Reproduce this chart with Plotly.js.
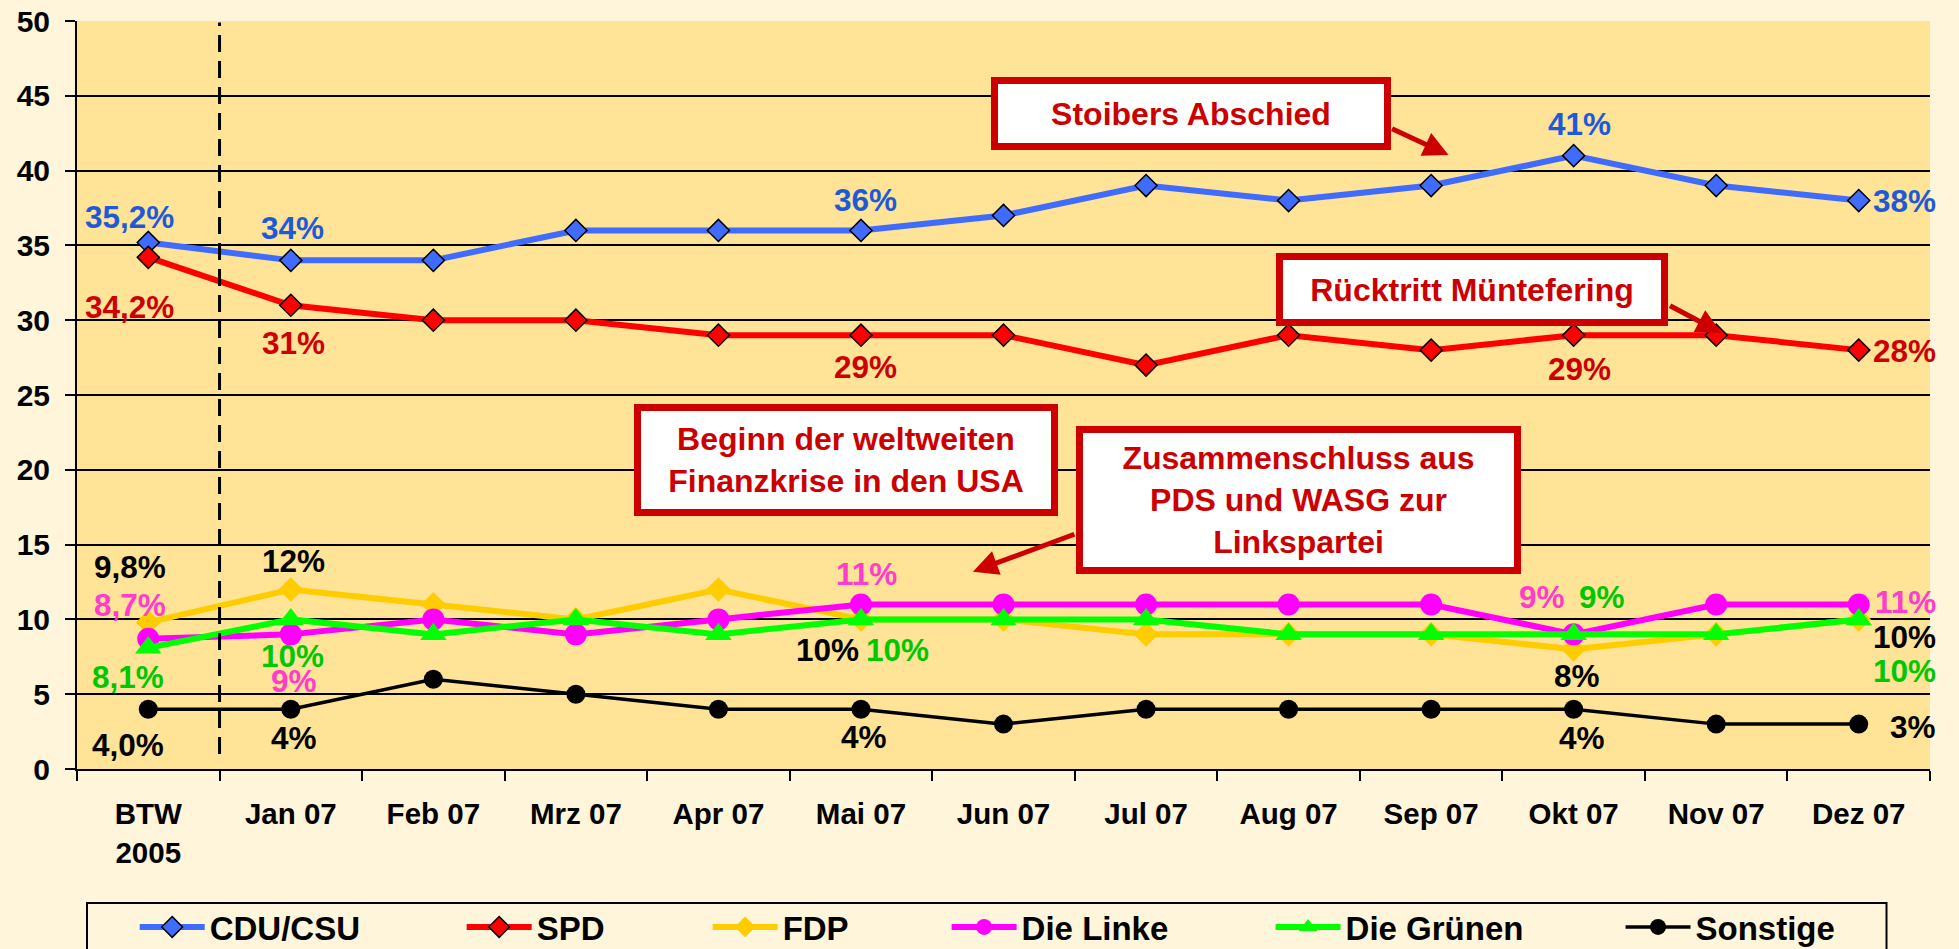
<!DOCTYPE html>
<html><head><meta charset="utf-8">
<script src="https://cdn.plot.ly/plotly-3.0.1.min.js"></script>
<style>html,body{margin:0;padding:0;background:#FFF5DA;}#chart{width:1959px;height:949px;}</style>
</head><body><div id="chart"></div>
<script>
// ---- data ----
const categories = ['BTW<br>2005','Jan 07','Feb 07','Mrz 07','Apr 07','Mai 07','Jun 07','Jul 07','Aug 07','Sep 07','Okt 07','Nov 07','Dez 07'];
const cduCsu     = [35.2, 34, 34, 36, 36, 36, 37, 39, 38, 39, 41, 39, 38];
const spd        = [34.2, 31, 30, 30, 29, 29, 29, 27, 29, 28, 29, 29, 28];
const fdp        = [9.8, 12, 11, 10, 12, 10, 10,  9,  9,  9,  8,  9, 10];
const dieLinke   = [8.7,  9, 10,  9, 10, 11, 11, 11, 11, 11,  9, 11, 11];
const dieGruenen = [8.1, 10,  9, 10,  9, 10, 10, 10,  9,  9,  9,  9, 10];
const sonstige   = [4.0,  4,  6,  5,  4,  4,  3,  4,  4,  4,  4,  3,  3];
const seriesNames = ['CDU/CSU','SPD','FDP','Die Linke','Die Grünen','Sonstige'];
const yTickVals = [0, 5, 10, 15, 20, 25, 30, 35, 40, 45, 50];
const eventTexts = ['Stoibers Abschied','Rücktritt Müntefering','Beginn der weltweiten<br>Finanzkrise in den USA','Zusammenschluss aus<br>PDS und WASG zur<br>Linkspartei'];

// ---- styling ----
const FONT = 'Liberation Sans, Arial, Helvetica, sans-serif';
const seriesData = [cduCsu, spd, fdp, dieLinke, dieGruenen, sonstige];
const lineColors = ['#3F6BFF','#FF0000','#FFCC00','#FF00FF','#00FF00','#000000'];
const labelColors = ['#1E5AD8','#CC0000','#000000','#FF3CCB','#00C800','#000000'];
const markerSpecs = [
  {symbol:'diamond', size:17, line:{color:'#000',width:1.5}},
  {symbol:'diamond', size:17, line:{color:'#000',width:1.5}},
  {symbol:'diamond', size:19, line:{color:'#FFCC00',width:0}},
  {symbol:'circle', size:22, line:{color:'#FF00FF',width:0}},
  {symbol:'triangle-up', size:23, line:{color:'#00FF00',width:0}},
  {symbol:'circle', size:19, line:{color:'#000',width:0}}
];
const lineWidths = [6, 6, 6, 6, 6, 3.5];
const legendKeys = ['legend','legend2','legend3','legend4','legend5','legend6'];
const legendLeftPx = [135, 462, 708, 947, 1271, 1621];

// label placements: [seriesIndex, pointIndex, xshift, yshift, anchor]
const R = 79;
const labelPlacement = [
  [0,0,-18.6,25.4,'center'],[0,1,2,32.4,'center'],[0,5,4.6,30.4,'center'],[0,10,5.8,31.9,'center'],[0,12,R,0,'right'],
  [1,0,-18.6,-50,'center'],[1,1,2.4,-37.3,'center'],[1,5,4.6,-31.8,'center'],[1,10,5.8,-33.8,'center'],[1,12,R,-0.7,'right'],
  [2,0,-18.6,55.4,'center'],[2,1,2.4,28.5,'center'],[2,5,-33.4,-30.1,'center'],[2,10,3.6,-27.1,'center'],[2,12,R,-17.6,'right'],
  [3,0,-18.6,34.1,'center'],[3,1,3.5,-46.2,'center'],[3,5,5.6,30.4,'center'],[3,10,-31.2,37.4,'center'],[3,12,R,2.6,'right'],
  [4,0,-20.6,-29.2,'center'],[4,1,1.9,-36.3,'center'],[4,5,36.4,-30.1,'center'],[4,10,28.5,37.4,'center'],[4,12,R,-51.6,'right'],
  [5,0,-20.6,-35.6,'center'],[5,1,3.5,-29.2,'center'],[5,5,2.6,-27.8,'center'],[5,10,8.5,-28.5,'center'],[5,12,R,-2.4,'right']
];

function fmt(v, i){ return (i === 0 ? v.toFixed(1).replace('.', ',') : String(v)) + '%'; }

// plot area in pixels (for paper-coordinate conversion of annotation boxes)
const W = 1959, H = 949;
const PL = 77.3, PR = 1930.5, PT = 21, PB = 769;
const px = x => (x - PL) / (PR - PL);
const py = y => (PB - y) / (PB - PT);

const traces = seriesNames.map((name, k) => ({
  type:'scatter', mode:'lines+markers', name:name,
  x:categories, y:seriesData[k],
  line:{color:lineColors[k], width:lineWidths[k]},
  marker:Object.assign({color:lineColors[k]}, markerSpecs[k]),
  cliponaxis:false, legend:legendKeys[k], hoverinfo:'skip', showlegend:true
}));

const annotations = labelPlacement.map(([s,i,dx,dy,anc]) => ({
  xref:'x', yref:'y', x:categories[i], y:seriesData[s][i],
  text:fmt(seriesData[s][i], i), showarrow:false,
  xanchor:anc, yanchor:'middle', xshift:dx, yshift:dy,
  font:{family:FONT, size:31.5, weight:700, color:labelColors[s]}
}));

const boxes = [
  {cx:1191.6, cy:113.6, w:400, h:73},
  {cx:1472.9, cy:289.4, w:392, h:73},
  {cx:845.9,  cy:460,   w:424, h:112},
  {cx:1298.5, cy:500,   w:445, h:148}
];
boxes.forEach((b, k) => annotations.push({
  xref:'paper', yref:'paper', x:px(b.cx), y:py(b.cy), xanchor:'center', yanchor:'middle',
  text:eventTexts[k], showarrow:false, align:'center',
  width:b.w - 22, height:b.h - 22, borderpad:4, borderwidth:7,
  bordercolor:'#CC0000', bgcolor:'#FFFFFF',
  font:{family:FONT, size:32, weight:700, color:'#CC0000'}
}));
const arrows = [
  {tx:1449, ty:155, ax:-58, ay:-27},
  {tx:1722, ty:333, ax:-53, ay:-28},
  {tx:973.3, ty:571.7, ax:103, ay:-38}
];
arrows.forEach(a => annotations.push({
  xref:'paper', yref:'paper', x:px(a.tx), y:py(a.ty), ax:a.ax, ay:a.ay,
  text:'', showarrow:true, arrowhead:2, arrowsize:1, arrowwidth:5, arrowcolor:'#CC0000', standoff:0
}));

const layout = {
  width:W, height:H, showlegend:true,
  paper_bgcolor:'#FFF5DA', plot_bgcolor:'#FFE397',
  margin:{l:PL, r:W-PR, t:PT, b:H-PB, autoexpand:false},
  font:{family:FONT, color:'#000'},
  hovermode:false,
  xaxis:{type:'category', range:[-0.5,12.5], showgrid:false, zeroline:false,
    showline:true, linecolor:'#000', linewidth:2, ticks:'outside', tickson:'boundaries',
    ticklen:10, tickwidth:2, tickcolor:'#000', ticklabelstandoff:18, automargin:false,
    tickfont:{family:FONT, size:29.5, weight:700, color:'#000'}},
  yaxis:{range:[0,50], tickvals:yTickVals, showgrid:true, gridcolor:'#000', gridwidth:2,
    zeroline:false, showline:true, linecolor:'#000', linewidth:2, ticks:'outside',
    ticklen:10, tickwidth:2, tickcolor:'#000', ticklabelstandoff:9, automargin:false,
    tickfont:{family:FONT, size:30, weight:700, color:'#000'}},
  annotations:annotations,
  shapes:[
    {type:'line', xref:'x', yref:'y', x0:0.5, x1:0.5, y0:1, y1:49.9,
     line:{color:'#000', width:3, dash:'17px,9px'}},
    {type:'rect', xref:'paper', yref:'paper', x0:px(87.3), x1:px(1887), y0:py(903), y1:py(975),
     line:{color:'#000', width:2}, fillcolor:'rgba(0,0,0,0)'}
  ]
};
legendKeys.forEach((key, k) => {
  layout[key] = {x:px(legendLeftPx[k]), y:py(927), xanchor:'left', yanchor:'middle',
    orientation:'h', bgcolor:'rgba(0,0,0,0)', borderwidth:0, itemwidth:65,
    font:{family:FONT, size:33, weight:700, color:'#000'}};
});

Plotly.newPlot('chart', traces, layout, {displayModeBar:false, staticPlot:true});
</script></body></html>
